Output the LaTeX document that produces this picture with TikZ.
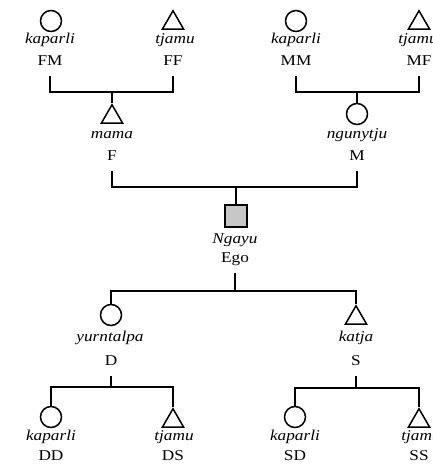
\documentclass[tikz,border=0pt]{standalone}
\usepackage{fontspec}
\setmainfont{Liberation Serif}[FakeStretch=1.15]
\usetikzlibrary{shapes.geometric}

\tikzset{
  kin/.style={line width=1.6pt},
  female/.style={draw, circle, line width=1.5pt, minimum size=21pt, inner sep=0pt},
  male/.style={draw, regular polygon, regular polygon sides=3, line width=1.5pt,
    minimum size=24.5pt, inner sep=0pt, yshift=-3pt},
  egobox/.style={draw, rectangle, line width=1.5pt, minimum size=22pt, inner sep=0pt,
    fill=black!22},
  term/.style={anchor=base, inner sep=0pt, font=\fontsize{15}{18}\selectfont\itshape},
  code/.style={anchor=base, inner sep=0pt, outer ysep=11pt, text depth=0pt,
    font=\fontsize{15}{18}\selectfont},
}

\begin{document}
\begin{tikzpicture}[x=1pt, y=-1pt]
  \useasboundingbox (0,0) rectangle (432,466);
  \clip (0,0) rectangle (432,466);
  \fill[white] (0,0) rectangle (432,466);

  % grandparents, father's side
  \node[female] (FM) at (51,21) {};
  \node[term] (FMt) at (50,43) {kaparli};
  \node[code] (FMc) at (50,65) {FM};
  \node[male] (FF) at (173,20) {};
  \node[term] (FFt) at (175,43) {tjamu};
  \node[code] (FFc) at (173,65) {FF};

  % grandparents, mother's side
  \node[female] (MM) at (296,21) {};
  \node[term] (MMt) at (296,43) {kaparli};
  \node[code] (MMc) at (296,65) {MM};
  \node[male] (MF) at (419,20) {};
  \node[term] (MFt) at (418,43) {tjamu};
  \node[code] (MFc) at (419,65) {MF};

  % parents
  \node[male] (F) at (112,114) {};
  \node[term] (Ft) at (112,138) {mama};
  \node[code] (Fc) at (112,160) {F};
  \node[female] (M) at (357,114) {};
  \node[term] (Mt) at (357,138) {ngunytju};
  \node[code] (Mc) at (357,160) {M};

  % ego
  \node[egobox] (Ego) at (236,216) {};
  \node[term] (Egot) at (235,243) {Ngayu};
  \node[code] (Egoc) at (235,262) {Ego};

  % children
  \node[female] (D) at (111,315) {};
  \node[term] (Dt) at (110,341) {yurntalpa};
  \node[code] (Dc) at (111,365) {D};
  \node[male] (S) at (356,315) {};
  \node[term] (St) at (356,341) {katja};
  \node[code] (Sc) at (356,365) {S};

  % grandchildren through the daughter
  \node[female] (DD) at (51,417) {};
  \node[term] (DDt) at (51,440) {kaparli};
  \node[code] (DDc) at (51,460) {DD};
  \node[male] (DS) at (173,418) {};
  \node[term] (DSt) at (174,440) {tjamu};
  \node[code] (DSc) at (173,460) {DS};

  % grandchildren through the son
  \node[female] (SD) at (295,417) {};
  \node[term] (SDt) at (295,440) {kaparli};
  \node[code] (SDc) at (295,460) {SD};
  \node[male] (SS) at (419,418) {};
  \node[term] (SSt) at (421,440) {tjamu};
  \node[code] (SSc) at (419,460) {SS};

  % sibling bars
  \coordinate (jF) at (112,92);
  \coordinate (jM) at (357,92);
  \coordinate (jE) at (236,187);
  \coordinate (jC) at (235,291);
  \coordinate (jD) at (111,387);
  \coordinate (jS) at (356,388);

  \draw[kin] (FMc.south) |- (jF) -| (FFc.south);
  \draw[kin] (jF) -- (F.north);
  \draw[kin] (MMc.south) |- (jM) -| (MFc.south);
  \draw[kin] (jM) -- (M.north);
  \draw[kin] (Fc.south) |- (jE) -| (Mc.south);
  \draw[kin] (jE) -- (Ego.north);
  \draw[kin] (Egoc.south) -- (jC);
  \draw[kin] (D.north) |- (jC) -| (S.north);
  \draw[kin] (Dc.south) -- (jD);
  \draw[kin] (DD.north) |- (jD) -| (DS.north);
  \draw[kin] (Sc.south) -- (jS);
  \draw[kin] (SD.north) |- (jS) -| (SS.north);
\end{tikzpicture}
\end{document}
